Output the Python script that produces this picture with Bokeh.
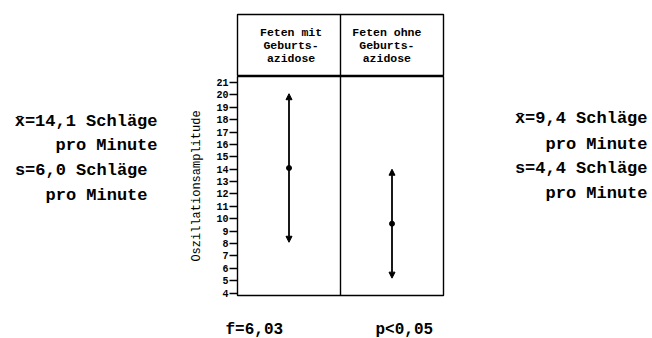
from bokeh.plotting import figure
from bokeh.models import (ColumnDataSource, Range1d, FixedTicker, Span,
                          Arrow, NormalHead, Spacer)
from bokeh.layouts import row, column
from bokeh.core.properties import value
from bokeh.embed import file_html
from bokeh.resources import INLINE

# ---- data ----
groups = ["Feten mit Geburtsazidose", "Feten ohne Geburtsazidose"]
header_lines = [["Feten mit", "Geburts-", "azidose"],
                ["Feten ohne", "Geburts-", "azidose"]]
means = [14.1, 9.6]
sds = [6.0, 4.4]
y_ticks = list(range(4, 22))
y_label = "Oszillationsamplitude"
left_text = ["x\u0304=14,1 Schläge", "pro Minute", "s=6,0 Schläge", "pro Minute"]
right_text = ["x\u0304=9,4 Schläge", "pro Minute", "s=4,4 Schläge", "pro Minute"]
bottom_text = ["f=6,03", "p<0,05"]

FONT = "Liberation Mono"
W, H = 652, 338
BOX_L, BOX_R, BOX_T, HDR_B, BOX_B = 237, 443, 14, 76, 295
PX_PER_UNIT = 12.38
Y0 = 3.8
Y1 = Y0 + (BOX_B - HDR_B) / PX_PER_UNIT
LW = 1.4


def blank(width, height, x0, x1, y0, y1):
    """A figure whose frame fills the canvas; x/y in page pixels (y downward)."""
    f = figure(width=width, height=height, output_backend="svg", toolbar_location=None,
               x_range=Range1d(x0, x1), y_range=Range1d(y1, y0),
               x_axis_location=None, y_axis_location=None,
               min_border=0, min_border_left=0, min_border_right=0,
               min_border_top=0, min_border_bottom=0)
    f.outline_line_color = None
    f.xgrid.visible = False
    f.ygrid.visible = False
    f.background_fill_color = "white"
    f.border_fill_color = "white"
    return f


def txt(f, xs, ys, texts, align, size, style="bold"):
    f.text(x=xs, y=ys, text=texts, text_align=align, text_baseline="middle",
           text_font=value(FONT), text_font_style=style, text_font_size=size,
           text_color="black")


# ---- row A : header box ----
HDR_W = (BOX_R + 2) - (BOX_L - 2)
hdr = figure(width=HDR_W, height=HDR_B, output_backend="svg", toolbar_location=None,
             x_range=Range1d(0, 2), y_range=Range1d(HDR_B, BOX_T),
             x_axis_location=None, y_axis_location=None,
             min_border_left=2, min_border_right=2, min_border_top=BOX_T,
             min_border_bottom=0)
hdr.xgrid.visible = False
hdr.ygrid.visible = False
hdr.outline_line_color = "black"
hdr.outline_line_width = LW
hdr.add_layout(Span(location=1.0, dimension="height", line_color="black", line_width=LW))
hdr_cx = [0.52, 1.45]
hdr_cy = [32, 45, 58]
for gi, lines in enumerate(header_lines):
    txt(hdr, [hdr_cx[gi]] * len(lines), hdr_cy, lines, "center", "11.5px")

row_a = row(Spacer(width=BOX_L - 2, height=HDR_B), hdr,
            Spacer(width=W - (BOX_R + 2), height=HDR_B))

# ---- row B : main plot ----
MAIN_X0 = 180
BOTTOM_PAD = 8
ROW_B_H = BOX_B + BOTTOM_PAD - HDR_B
main = figure(width=BOX_R + 2 - MAIN_X0, height=ROW_B_H, output_backend="svg",
              toolbar_location=None, x_range=Range1d(0, 2), y_range=Range1d(Y0, Y1),
              x_axis_location=None,
              min_border_left=BOX_L - MAIN_X0, min_border_right=2,
              min_border_top=0, min_border_bottom=BOTTOM_PAD)
main.xgrid.visible = False
main.ygrid.visible = False
main.outline_line_color = "black"
main.outline_line_width = LW
ya = main.yaxis[0]
ya.ticker = FixedTicker(ticks=y_ticks)
ya.axis_line_color = None
ya.major_tick_out = 8
ya.major_tick_in = 0
ya.major_tick_line_width = 1.3
ya.minor_tick_line_color = None
ya.major_label_standoff = 1
ya.major_label_text_font = FONT
ya.major_label_text_font_style = "bold"
ya.major_label_text_font_size = "10px"
ya.major_label_text_color = "black"
ya.axis_label = y_label
ya.axis_label_standoff = 9
ya.axis_label_text_font = FONT
ya.axis_label_text_font_style = "normal"
ya.axis_label_text_font_size = "12px"
ya.axis_label_text_color = "black"
main.add_layout(Span(location=1.0, dimension="height", line_color="black", line_width=LW))

xs = [i + 0.5 for i in range(len(groups))]
src = ColumnDataSource(dict(
    x=xs, mean=means,
    top=[m + s for m, s in zip(means, sds)],
    bot=[m - s for m, s in zip(means, sds)]))
for key in ["top", "bot"]:
    main.add_layout(Arrow(end=NormalHead(size=6, fill_color="black", line_color="black",
                                         line_width=1),
                          x_start="x", y_start="mean", x_end="x", y_end=key,
                          source=src, line_width=1.8, line_color="black"))
main.scatter("x", "mean", source=src, size=5, color="black")

left = blank(MAIN_X0, ROW_B_H, 0, MAIN_X0, HDR_B, HDR_B + ROW_B_H)
txt(left, [157, 157, 147, 147], [123, 148, 173, 199], left_text, "right", "17px")

RIGHT_X0 = BOX_R + 2
right = blank(W - RIGHT_X0, ROW_B_H, RIGHT_X0, W, HDR_B, HDR_B + ROW_B_H)
txt(right, [647, 647, 647, 647], [120, 147, 171, 197], right_text, "right", "17px")

row_b = row(left, main, right)

# ---- row C : bottom texts ----
ROW_C_Y0 = HDR_B + ROW_B_H
bottom = blank(W, H - ROW_C_Y0, 0, W, ROW_C_Y0, H)
txt(bottom, [225, 375], [329, 329], bottom_text, "left", "16px")

layout = column(row_a, row_b, bottom)
open("out.html", "w").write(file_html(layout, INLINE))
